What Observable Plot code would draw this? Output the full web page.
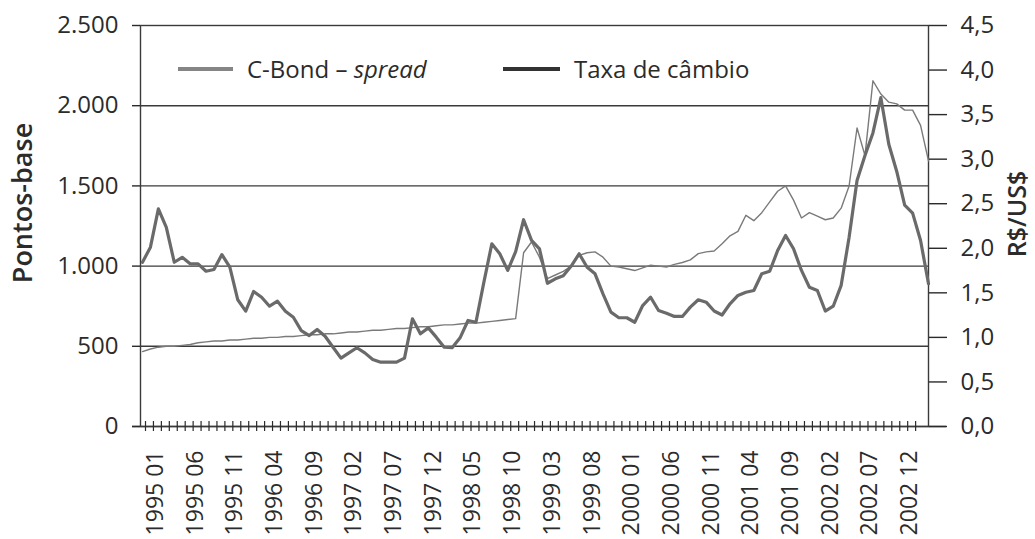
<!DOCTYPE html>
<html><head><meta charset="utf-8">
<script src="https://cdn.jsdelivr.net/npm/d3@7"></script>
<script src="https://cdn.jsdelivr.net/npm/@observablehq/plot@0.6"></script>
<style>
body{margin:0;background:#fff;font-family:"Open Sans",sans-serif;}
#wrap{position:relative;width:1035px;height:539px;overflow:hidden;background:#fff;}
.leg{position:absolute;display:flex;align-items:center;font-family:"Open Sans",sans-serif;font-size:24px;color:#2b2b2b;line-height:24px;white-space:nowrap;}
.leg .sw{display:inline-block;height:4px;margin-right:14px;}
</style></head><body><div id="wrap"></div><script>
// Monthly series, 1995 01 .. 2003 04
const startYear = 1995;
const spread = [1024,1118,1357,1242,1024,1055,1014,1014,968,979,1072,993,
  790,719,842,806,750,781,719,681,598,567,605,563,
  494,426,459,491,459,418,401,401,401,426,671,578,
  615,557,494,491,553,661,650,900,1139,1077,973,1090,
  1289,1160,1108,893,921,940,1000,1077,993,952,827,713,
  678,678,650,754,806,723,706,686,686,744,790,775,
  720,695,765,817,837,848,952,968,1097,1191,1108,973,
  868,848,720,750,880,1180,1534,1690,1830,2050,1760,1590,
  1380,1330,1160,890];
const cambio = [0.84,0.87,0.89,0.90,0.90,0.91,0.92,0.94,0.95,0.96,0.96,0.97,
  0.97,0.98,0.99,0.99,1.00,1.00,1.01,1.01,1.02,1.03,1.03,1.04,
  1.04,1.05,1.06,1.06,1.07,1.08,1.08,1.09,1.10,1.10,1.11,1.12,
  1.12,1.13,1.14,1.14,1.15,1.16,1.16,1.17,1.18,1.19,1.20,1.21,
  1.95,2.07,1.90,1.66,1.70,1.74,1.80,1.92,1.95,1.96,1.90,1.80,
  1.79,1.77,1.75,1.78,1.81,1.80,1.79,1.82,1.84,1.87,1.94,1.96,
  1.97,2.05,2.14,2.19,2.37,2.31,2.40,2.52,2.64,2.70,2.54,2.34,
  2.40,2.36,2.32,2.34,2.45,2.70,3.35,3.04,3.88,3.73,3.64,3.62,
  3.55,3.55,3.38,2.98];
const spreadTicks = [0,500,1000,1500,2000,2500];
const cambioTicks = [0,0.5,1.0,1.5,2.0,2.5,3.0,3.5,4.0,4.5];
const gridValues = [500,1000,1500,2000];
const seriesNames = ["C-Bond – ", "spread", "Taxa de câmbio"];
const axisTitles = ["Pontos-base", "R$/US$"];

const K = 2500 / 4.5;
const months = spread.map((_, i) => i);
const monthLabel = i => `${startYear + Math.floor(i / 12)} ${String(i % 12 + 1).padStart(2, "0")}`;
const data = months.map(i => ({i, spread: spread[i], cambio: cambio[i]}));
const ink = "#2b2b2b";
const lineInk = "#3a3a3a";

const chart = Plot.plot({
  width: 1035, height: 539,
  marginTop: 25, marginBottom: 113, marginLeft: 140, marginRight: 107,
  style: {fontFamily: "Open Sans", fontSize: "24px", color: ink, background: "white", overflow: "visible"},
  x: {domain: [0, months.length - 1], insetLeft: 2, axis: null},
  y: {domain: [0, 2500], axis: null},
  marks: [
    Plot.ruleY(gridValues, {stroke: lineInk, strokeWidth: 1.4}),
    Plot.frame({stroke: lineInk, strokeWidth: 1.4}),
    Plot.ruleY([0], {stroke: lineInk, strokeWidth: 1.4, insetLeft: -8, insetRight: -18}),
    Plot.axisY(spreadTicks, {anchor: "left", label: null, tickSize: 8, tickPadding: 14, strokeWidth: 1.4,
      tickFormat: v => d3.format(",")(v).replace(/,/g, ".")}),
    Plot.axisY(cambioTicks.map(r => r * K), {anchor: "right", label: null, tickSize: 18, tickPadding: 14, strokeWidth: 1.4,
      tickFormat: v => (v / K).toFixed(1).replace(".", ",")}),
    Plot.axisX(months.filter(i => i < 98), {anchor: "bottom", label: null, tickSize: 10, dy: -5, dx: 3, strokeWidth: 1.2,
      tickFormat: () => ""}),
    Plot.axisX(months.filter(i => i % 5 === 0 && i <= 95), {anchor: "bottom", label: null, tickSize: 0, tickPadding: 24,
      tickRotate: -90, dx: 13, fontSize: 23, tickFormat: monthLabel}),
    Plot.line(data, {x: "i", y: d => d.cambio * K, stroke: "#7a7a7a", strokeWidth: 1.4, strokeLinejoin: "round"}),
    Plot.line(data, {x: "i", y: "spread", stroke: "#6a6a6a", strokeWidth: 3.2, strokeLinejoin: "round"}),
    Plot.text([axisTitles[0]], {text: d => d, frameAnchor: "left", textAnchor: "middle", rotate: -90, dx: -117, dy: -23,
      fontSize: 27, fontWeight: 600, fill: ink}),
    Plot.text([axisTitles[1]], {text: d => d, frameAnchor: "right", textAnchor: "middle", rotate: -90, dx: 89, dy: -12,
      fontSize: 25, fontWeight: 600, fill: ink})
  ]
});
const wrap = document.getElementById("wrap");
wrap.appendChild(chart);

function addLegend(left, top, swWidth, color, html) {
  const d = document.createElement("div");
  d.className = "leg";
  d.style.left = left + "px";
  d.style.top = top + "px";
  d.innerHTML = `<span class="sw" style="width:${swWidth}px;background:${color}"></span><span>${html}</span>`;
  wrap.appendChild(d);
}
addLegend(178, 57, 55, "#858585", `${seriesNames[0]}<i>${seriesNames[1]}</i>`);
addLegend(503, 57, 57, "#333333", seriesNames[2]);
</script></body></html>
